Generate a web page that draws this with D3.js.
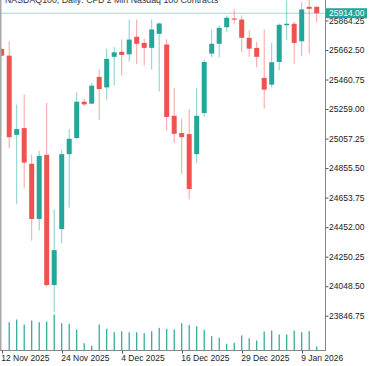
<!DOCTYPE html>
<html><head><meta charset="utf-8">
<script src="https://cdn.jsdelivr.net/npm/d3@7"></script>
<style>html,body{margin:0;padding:0;background:#fff;}svg{display:block;}</style>
</head><body>
<svg id="c" width="375" height="366"></svg>
<script>
const dates = ["12 Nov","13 Nov","14 Nov","17 Nov","18 Nov","19 Nov","20 Nov","21 Nov","24 Nov","25 Nov","26 Nov","27 Nov","28 Nov",
"1 Dec","2 Dec","3 Dec","4 Dec","5 Dec","8 Dec","9 Dec","10 Dec","11 Dec","12 Dec","15 Dec","16 Dec","17 Dec","18 Dec","19 Dec",
"22 Dec","23 Dec","24 Dec","26 Dec","29 Dec","30 Dec","31 Dec","2 Jan","5 Jan","6 Jan","7 Jan","8 Jan","9 Jan","12 Jan","13 Jan"];
const open  = [25670,25624,25083,25129,24885,24508,24946,24056,24439,24951,25061,25309,25296,25479,25407,25616,25650,25633,25753,25711,25677,25773,25700,25213,25095,25088,24951,25232,25638,25705,25818,25878,25871,25746,25677,25472,25426,25581,25832,25842,25722,25958,25958];
const high  = [25675,25722,25289,25357,24946,24974,25300,24574,24980,25124,25373,25330,25437,25529,25670,25684,25734,25871,25871,25741,25871,25850,25734,25403,25193,25259,25403,25597,25803,25830,25899,25940,25899,25796,25718,25803,25711,25844,26001,25853,25990,26020,25960];
const low   = [25620,24992,24610,24718,24359,24428,24044,23873,24341,24585,25054,25282,25291,25186,25323,25421,25489,25581,25568,25558,25529,25380,25111,25026,24816,24643,24889,25205,25613,25613,25784,25842,25650,25616,25544,25261,25407,25524,25729,25570,25620,25638,25853];
const close = [25624,25067,25122,24893,24508,24939,24056,24295,24951,25056,25309,25291,25419,25396,25602,25647,25629,25734,25705,25677,25803,25844,25205,25090,25067,24713,25213,25581,25705,25814,25883,25873,25746,25672,25616,25392,25579,25835,25842,25711,25940,25944,25914];
const volume = [0,283,310,260,300,283,290,360,273,267,210,73,50,260,217,183,193,183,183,173,193,227,217,210,273,257,243,207,143,127,67,77,150,123,100,190,200,160,160,200,183,193,40];
const priceTicks = [25864.25,25662.50,25460.75,25259.00,25057.25,24855.50,24653.75,24452.00,24250.25,24048.50,23846.75];
const dateTickIdx = [0,8,16,24,32,40];
const dateTickLabels = ["12 Nov 2025","24 Nov 2025","4 Dec 2025","16 Dec 2025","29 Dec 2025","9 Jan 2026"];
const lastPrice = 25914.00;
const title = "NASDAQ100, Daily:  CFD 2 Min Nasdaq 100 Contracts";

const UP = "#26a69a", DN = "#ef5350";
const FONT = "'Liberation Sans', Arial, sans-serif";
const svg = d3.select("#c");
const axisX = 325.5, baseY = 350.5;

const x = d3.scaleLinear().domain([0, dates.length - 1]).range([1.7, 1.7 + 7.5 * (dates.length - 1)]);
const y = d3.scaleLinear().domain([23846.75, 25864.25]).range([315.7, 20.5]);
const v = d3.scaleLinear().domain([0, 360]).range([baseY, baseY - 36]);

const plot = svg.append("g");
plot.append("clipPath").attr("id","clip").append("rect").attr("x",0).attr("y",0).attr("width",axisX).attr("height",baseY);
const g = plot.append("g").attr("clip-path","url(#clip)");

// volume
g.selectAll("rect.vol").data(volume.map((d,i)=>({d,i})).filter(o=>o.d>0)).join("rect")
  .attr("class","vol")
  .attr("x", o => x(o.i) - 0.6).attr("width", 1.2)
  .attr("y", o => v(o.d)).attr("height", o => baseY - v(o.d))
  .attr("fill", UP);

// price line
g.append("line").attr("x1",0).attr("x2",axisX).attr("y1",y(lastPrice)).attr("y2",y(lastPrice))
  .attr("stroke","#9ed8d1").attr("stroke-width",1);

const candles = dates.map((d,i)=>({i,o:open[i],h:high[i],l:low[i],c:close[i]}));
// wicks
g.selectAll("line.wick").data(candles).join("line").attr("class","wick")
  .attr("x1", d=>x(d.i)).attr("x2", d=>x(d.i))
  .attr("y1", d=>y(d.h)).attr("y2", d=>y(d.l))
  .attr("stroke", d=> d.c>=d.o?UP:DN).attr("stroke-opacity",0.55).attr("stroke-width",1);
// bodies
g.selectAll("rect.body").data(candles).join("rect").attr("class","body")
  .attr("x", d=>x(d.i)-2.5).attr("width",5)
  .attr("y", d=>y(Math.max(d.o,d.c)))
  .attr("height", d=>Math.max(1.2, Math.abs(y(d.o)-y(d.c))))
  .attr("fill", d=> d.c>=d.o?UP:DN);

// title
svg.append("text").attr("x",5).attr("y",3).attr("font-family",FONT).attr("font-size",8.8)
  .attr("fill","#333").text(title);

// frame lines
svg.append("line").attr("x1",0.75).attr("x2",0.75).attr("y1",0).attr("y2",baseY).attr("stroke","#a8a8a8").attr("stroke-width",1.5);
svg.append("line").attr("x1",axisX).attr("x2",axisX).attr("y1",0).attr("y2",baseY+0.5).attr("stroke","#888").attr("stroke-width",1);
svg.append("line").attr("x1",0).attr("x2",axisX).attr("y1",baseY).attr("y2",baseY).attr("stroke","#888").attr("stroke-width",1);

// right axis
const ya = svg.append("g").attr("transform",`translate(${axisX},0)`)
  .call(d3.axisRight(y).tickValues(priceTicks).tickSize(3).tickPadding(0.5).tickFormat(d=>d.toFixed(2)));
ya.select(".domain").remove();
ya.selectAll("line").attr("stroke","#555");
ya.selectAll("text").attr("font-family",FONT).attr("font-size",8.5).attr("fill","#222");

// bottom axis
const xa = svg.append("g").attr("transform",`translate(0,${baseY})`);
xa.selectAll("line").data(dateTickIdx).join("line")
  .attr("x1",d=>Math.round(x(d))+0.5).attr("x2",d=>Math.round(x(d))+0.5).attr("y1",0).attr("y2",3).attr("stroke","#555");
xa.selectAll("text").data(dateTickIdx).join("text")
  .attr("x",d=>x(d)-0.5).attr("y",10.5).attr("font-family",FONT).attr("font-size",8.5).attr("fill","#222")
  .text((d,k)=>dateTickLabels[k]);

// last price label
const ly = y(lastPrice);
svg.append("rect").attr("x",axisX+0.5).attr("y",ly-5).attr("width",41).attr("height",10).attr("fill",UP);
svg.append("text").attr("x",axisX+3.5).attr("y",ly).attr("dy","0.35em").attr("font-family",FONT).attr("font-size",8.5)
  .attr("fill","#fff").text(lastPrice.toFixed(2));
</script>
</body></html>
